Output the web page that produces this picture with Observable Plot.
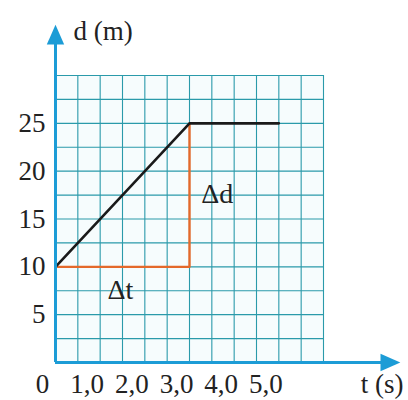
<!DOCTYPE html>
<html>
<head>
<meta charset="utf-8">
<script src="https://cdn.jsdelivr.net/npm/d3@7"></script>
<script src="https://cdn.jsdelivr.net/npm/@observablehq/plot@0.6"></script>
<style>
  html, body { margin: 0; padding: 0; background: #fff; }
  #chart svg, #chart svg text { font-family: "Liberation Serif", "Times New Roman", "DejaVu Serif", serif !important; }
</style>
</head>
<body>
<div id="chart"></div>
<script>
// Motion graph d(t)
const motionT = [0, 3, 5];
const motionD = [10, 25, 25];
// Δt / Δd construction
const triangleT = [0, 3, 3];
const triangleD = [10, 10, 25];
// Ticks
const tTicks = [0, 1, 2, 3, 4, 5];
const tTickLabels = ["0", "1,0", "2,0", "3,0", "4,0", "5,0"];
const dTicks = [5, 10, 15, 20, 25];
// Annotations
const annotationText = ["Δt", "Δd"];
const annotationT = [1.45, 3.62];
const annotationD = [7.6, 17.6];
// Axis extents (data units) for arrows
const tDomain = [0, 6];
const dDomain = [0, 30];
const tAxisEnd = 7.72;
const dAxisEnd = 35.3;

const gridT = d3.range(0, 6 + 1e-9, 0.5);
const gridD = d3.range(0, 30 + 1e-9, 2.5);

const motion = motionT.map((t, i) => ({t, d: motionD[i]}));
const triangle = triangleT.map((t, i) => ({t, d: triangleD[i]}));
const annotations = annotationText.map((label, i) => ({label, t: annotationT[i], d: annotationD[i]}));

// Arrowhead symbol: tip at origin, body below (+y)
const arrowHead = {
  draw(context, size) {
    const r = Math.sqrt(size / Math.PI);
    const L = r * 3.3, w = r * 1.45;
    context.moveTo(0, 0);
    context.lineTo(-w, L);
    context.lineTo(w, L);
    context.closePath();
  }
};

const axisBlue = "#1c9cd6";
const gridTeal = "#2a9aaa";
const serif = "Liberation Serif, Times New Roman, DejaVu Serif, serif";

const chart = Plot.plot({
  width: 408,
  height: 400,
  marginLeft: 55,
  marginRight: 85,
  marginTop: 75,
  marginBottom: 38,
  style: {fontFamily: serif, fontSize: "27px", background: "#fff", color: "#222"},
  x: {domain: tDomain},
  y: {domain: dDomain},
  marks: [
    Plot.frame({fill: "#f6fcfd", stroke: "none"}),
    Plot.gridX(gridT, {stroke: gridTeal, strokeOpacity: 1, strokeWidth: 1.1}),
    Plot.gridY(gridD, {stroke: gridTeal, strokeOpacity: 1, strokeWidth: 1.1}),
    Plot.axisX(tTicks, {
      tickSize: 0, tickPadding: 11, fontSize: 27, dx: -13, fontFamily: serif,
      tickFormat: (d) => tTickLabels[tTicks.indexOf(d)], label: null
    }),
    Plot.axisY(dTicks, {
      tickSize: 0, tickPadding: 10, fontSize: 27, fontFamily: serif, label: null
    }),
    Plot.line(triangle, {x: "t", y: "d", stroke: "#e4692b", strokeWidth: 2.4}),
    Plot.line(motion, {x: "t", y: "d", stroke: "#1a1a1a", strokeWidth: 2.6}),
    Plot.ruleY([0], {x1: 0, x2: tAxisEnd - 0.3, stroke: axisBlue, strokeWidth: 3}),
    Plot.ruleX([0], {y1: 0, y2: dAxisEnd - 1.5, stroke: axisBlue, strokeWidth: 3}),
    Plot.dot([{t: tAxisEnd, d: 0}], {x: "t", y: "d", symbol: arrowHead, r: 6, rotate: 90, fill: axisBlue, stroke: "none"}),
    Plot.dot([{t: 0, d: dAxisEnd}], {x: "t", y: "d", symbol: arrowHead, r: 6, rotate: 0, fill: axisBlue, stroke: "none"}),
    Plot.text(annotations, {x: "t", y: "d", text: "label", fontSize: 28, fontFamily: serif, fill: "#222"}),
    Plot.text(["d (m)"], {frameAnchor: "top-left", textAnchor: "start", lineAnchor: "middle", dx: 18, dy: -44, fontSize: 27, fontFamily: serif, fill: "#222"}),
    Plot.text(["t (s)"], {frameAnchor: "bottom-right", textAnchor: "end", lineAnchor: "middle", dx: 80, dy: 22, fontSize: 27, fontFamily: serif, fill: "#222"})
  ]
});

document.getElementById("chart").appendChild(chart);
</script>
</body>
</html>
